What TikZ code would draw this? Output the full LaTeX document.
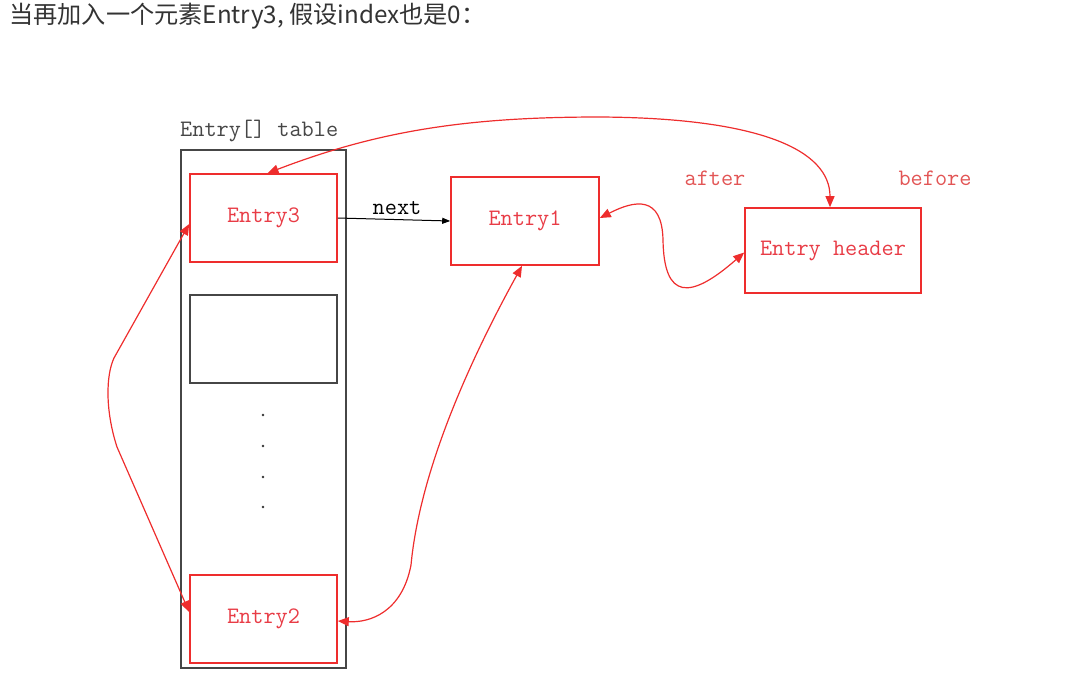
\documentclass[tikz,border=0pt]{standalone}
\usepackage{fontspec}
\newfontfamily\cjk{Noto Sans CJK SC}
\usetikzlibrary{arrows.meta}
\definecolor{boxred}{RGB}{238,45,45}
\definecolor{txtred}{RGB}{232,60,70}
\definecolor{lblred}{RGB}{226,85,85}
\definecolor{frame}{RGB}{70,70,70}
\definecolor{titlegray}{RGB}{51,51,51}
\tikzset{
  mono/.style={font=\fontsize{23.6}{28}\selectfont\ttfamily},
  redbox/.style={draw=boxred, line width=1.6pt, minimum width=147pt, minimum height=88pt, inner sep=0pt, mono, text=txtred},
  graybox/.style={draw=frame, line width=1.5pt, minimum width=147pt, minimum height=88pt, inner sep=0pt},
  redlink/.style={draw=boxred, line width=1.2pt, {Triangle[length=11pt,width=9pt]}-{Triangle[length=11pt,width=9pt]}},
  blacklink/.style={draw=black, line width=1pt, -{Triangle[length=8pt,width=6pt]}},
  lbl/.style={mono, inner sep=0pt}
}
\begin{document}
\begin{tikzpicture}[x=1pt,y=-1pt]
\useasboundingbox (0,0) rectangle (1073,696);
% title
\node[anchor=west, inner sep=0pt, text=titlegray, font=\cjk\fontsize{24.2}{28}\selectfont] (title) at (9,16) {当再加入一个元素Entry3, 假设index也是0：};
% table
\node[draw=frame, line width=1.8pt, minimum width=165pt, minimum height=518pt, inner sep=0pt] (table) at (263.5,409) {};
\node[lbl, text=frame, anchor=south west] (tablelbl) at (180,142) {Entry[] table};
\node[redbox] (e3) at (263.5,218) {Entry3};
\node[graybox] (empty) at (263.5,339) {};
\foreach \y [count=\i] in {415,446,477,507} {
  \fill[black!80] (263,\y) circle (1.4pt) coordinate (dot\i);
}
\node[redbox] (e2) at (263.5,619) {Entry2};
\node[redbox, minimum width=148pt] (e1) at (525,221) {Entry1};
\node[redbox, minimum width=176pt, minimum height=85pt] (hdr) at (833,250.5) {Entry header};
% labels
\node[lbl, text=black] (nextlbl) at (397,208) {next};
\node[lbl, text=lblred] (after) at (715,178) {after};
\node[lbl, text=lblred] (before) at (935,178) {before};
% connectors
\draw[blacklink] (e3.east) -- (e1.west);
\draw[redlink] ([xshift=4pt]e3.north) .. controls (380,130) and (470,117) .. (600,117)
   .. controls (760,118) and (830,150) .. ([xshift=-3pt]hdr.north);
\draw[redlink] ([yshift=3pt]e1.east) .. controls (635,200) and (662,195) .. (663,240)
   .. controls (664,300) and (690,300) .. ([yshift=-2pt]hdr.west);
\draw[redlink] ([yshift=-6pt]e3.west) -- (114,358) .. controls (106,375) and (105,410) .. (117,447) -- ([yshift=7pt]e2.west);
\draw[redlink] ([xshift=-3pt]e1.south) .. controls (470,360) and (420,470) .. (411,565)
   .. controls (402,612) and (370,623) .. ([yshift=-2pt]e2.east);
\end{tikzpicture}
\end{document}
